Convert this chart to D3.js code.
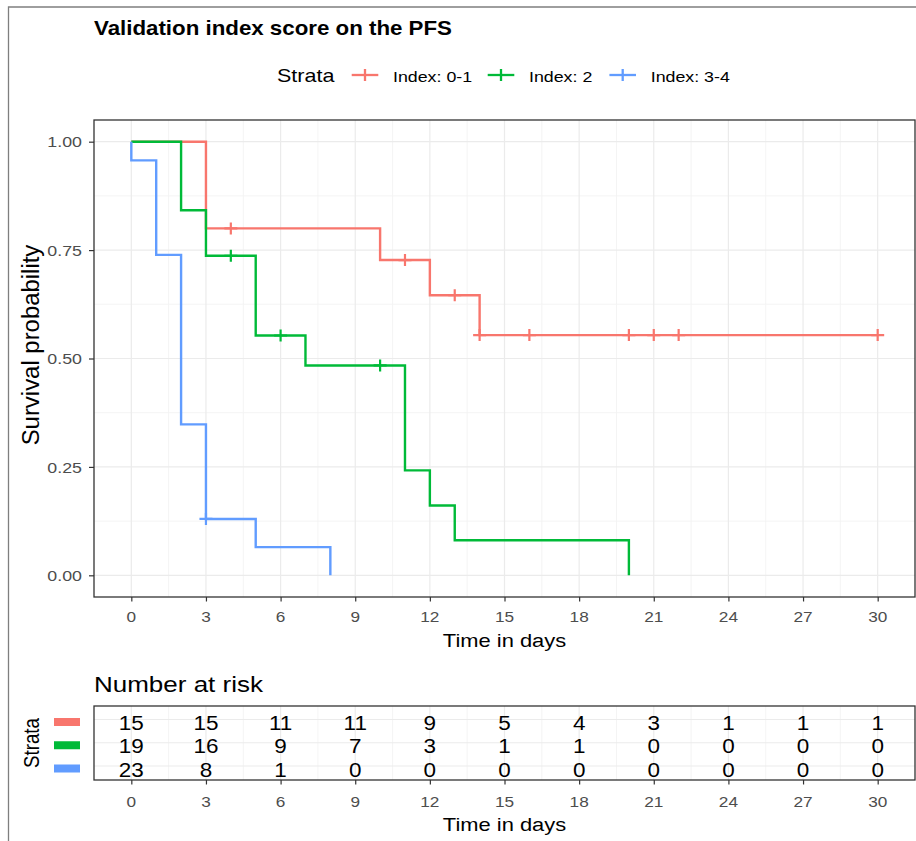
<!DOCTYPE html>
<html>
<head>
<meta charset="utf-8">
<script src="https://cdn.jsdelivr.net/npm/d3@7"></script>
<style>
  body { margin: 0; background: #fff; }
  text { font-family: "Liberation Sans", Arial, Helvetica, sans-serif; }
</style>
</head>
<body>
<svg id="chart" width="916" height="841"></svg>
<script>
// strata and colours
var strata = ["Index: 0-1", "Index: 2", "Index: 3-4"];
var colors = ["#F8766D", "#00BA38", "#619CFF"];

// Kaplan-Meier steps (time, survival after that time)
var stepTimes0 = [0, 3, 10, 12, 14, 30];
var stepSurv0  = [1, 0.800, 0.727, 0.646, 0.554, 0.554];
var censor0    = [4, 11, 13, 14, 16, 20, 21, 22, 30];

var stepTimes1 = [0, 2, 3, 5, 7, 11, 12, 13, 20];
var stepSurv1  = [1, 0.842, 0.737, 0.553, 0.484, 0.242, 0.161, 0.081, 0];
var censor1    = [4, 6, 10];

var stepTimes2 = [0, 0, 1, 2, 3, 5, 8];
var stepSurv2  = [1, 0.957, 0.739, 0.348, 0.130, 0.065, 0];
var censor2    = [3];

// number at risk
var riskTimes = [0, 3, 6, 9, 12, 15, 18, 21, 24, 27, 30];
var risk0 = [15, 15, 11, 11, 9, 5, 4, 3, 1, 1, 1];
var risk1 = [19, 16, 9, 7, 3, 1, 1, 0, 0, 0, 0];
var risk2 = [23, 8, 1, 0, 0, 0, 0, 0, 0, 0, 0];

var yTicks = [0, 0.25, 0.5, 0.75, 1];
var yTickLabels = ["0.00", "0.25", "0.50", "0.75", "1.00"];
var xTicks = d3.range(0, 31, 3);

var curves = [
  {times: stepTimes0, surv: stepSurv0, cens: censor0},
  {times: stepTimes1, surv: stepSurv1, cens: censor1},
  {times: stepTimes2, surv: stepSurv2, cens: censor2}
];
var risks = [risk0, risk1, risk2];

var VS = 0.87; // picture is squashed vertically
var gridMajor = "#EBEBEB", gridMinor = "#F3F3F3", ink = "#333333", tickInk = "#4D4D4D";

var svg = d3.select("#chart");

// outer frame
svg.append("path")
  .attr("d", "M8.5,845V7H920")
  .attr("fill", "none")
  .attr("stroke", "#7F7F7F")
  .attr("stroke-width", 1.3);

function label(sel, x, y, s, size, opts) {
  opts = opts || {};
  var t = sel.append("text")
    .attr("transform", "translate(" + x + "," + y + ")" + (opts.rotate ? " rotate(-90) scale(" + (opts.sx || VS) + ",1)" : " scale(1," + VS + ")"))
    .attr("font-size", size)
    .attr("fill", opts.fill || "#000")
    .attr("text-anchor", opts.anchor || "start")
    .text(s);
  if (opts.bold) t.attr("font-weight", "bold");
  return t;
}

// scales
var x = d3.scaleLinear().domain([-1.5, 31.5]).range([94, 915]);
var y = d3.scaleLinear().domain([-0.05, 1.05]).range([597, 120]);
var yr = d3.scalePoint().domain(strata).range([719.5, 766]);

var xMinor = d3.range(1.5, 30, 3);
var yMinor = [0.125, 0.375, 0.625, 0.875];

// title
label(svg, 94, 35, "Validation index score on the PFS", 22.3, {bold: true});

// legend
label(svg, 277, 82, "Strata", 21.5);
var keyX = [365, 501, 622.7];
strata.forEach(function(s, i) {
  var k = svg.append("g").attr("stroke", colors[i]).attr("stroke-width", 2.3);
  k.append("line").attr("x1", keyX[i] - 13.3).attr("x2", keyX[i] + 13.3).attr("y1", 75).attr("y2", 75);
  k.append("line").attr("x1", keyX[i]).attr("x2", keyX[i]).attr("y1", 69).attr("y2", 81);
  label(svg, keyX[i] + 28, 82, s, 17.8);
});

// ---- survival panel ----
var panel = svg.append("g");

panel.selectAll(".vminor").data(xMinor).enter().append("line")
  .attr("x1", function(d) { return x(d); }).attr("x2", function(d) { return x(d); })
  .attr("y1", 120).attr("y2", 597).attr("stroke", gridMinor).attr("stroke-width", 0.9);
panel.selectAll(".hminor").data(yMinor).enter().append("line")
  .attr("y1", function(d) { return y(d); }).attr("y2", function(d) { return y(d); })
  .attr("x1", 94).attr("x2", 915).attr("stroke", gridMinor).attr("stroke-width", 0.9);
panel.selectAll(".vmajor").data(xTicks).enter().append("line")
  .attr("x1", function(d) { return x(d); }).attr("x2", function(d) { return x(d); })
  .attr("y1", 120).attr("y2", 597).attr("stroke", gridMajor).attr("stroke-width", 1.2);
panel.selectAll(".hmajor").data(yTicks).enter().append("line")
  .attr("y1", function(d) { return y(d); }).attr("y2", function(d) { return y(d); })
  .attr("x1", 94).attr("x2", 915).attr("stroke", gridMajor).attr("stroke-width", 1.2);

var line = d3.line()
  .x(function(d) { return x(d[0]); })
  .y(function(d) { return y(d[1]); })
  .curve(d3.curveStepAfter);

function survAt(c, t) {
  var s = c.surv[0];
  for (var i = 0; i < c.times.length; i++) if (c.times[i] <= t) s = c.surv[i];
  return s;
}

curves.forEach(function(c, i) {
  var pts = c.times.map(function(t, j) { return [t, c.surv[j]]; });
  panel.append("path")
    .attr("d", line(pts))
    .attr("fill", "none")
    .attr("stroke", colors[i])
    .attr("stroke-width", 2.4);
  panel.selectAll(".cens" + i).data(c.cens).enter().append("path")
    .attr("d", function(t) {
      var cx = x(t), cy = y(survAt(c, t));
      return "M" + (cx - 6.5) + "," + cy + "H" + (cx + 6.5) + "M" + cx + "," + (cy - 6) + "V" + (cy + 6);
    })
    .attr("stroke", colors[i])
    .attr("stroke-width", 2.2);
});

panel.append("rect")
  .attr("x", 94).attr("y", 120).attr("width", 821).attr("height", 477)
  .attr("fill", "none").attr("stroke", ink).attr("stroke-width", 1.3);

// axes ticks
svg.append("g").attr("transform", "translate(94,0)")
  .call(d3.axisLeft(y).tickValues(yTicks).tickSize(5).tickFormat(""))
  .call(function(g) { g.select(".domain").remove(); g.selectAll("line").attr("stroke", ink).attr("stroke-width", 1.2); });
svg.append("g").attr("transform", "translate(0,597)")
  .call(d3.axisBottom(x).tickValues(xTicks).tickSize(4.5).tickFormat(""))
  .call(function(g) { g.select(".domain").remove(); g.selectAll("line").attr("stroke", ink).attr("stroke-width", 1.2); });

yTicks.forEach(function(v, i) {
  label(svg, 82, y(v) + 5.6, yTickLabels[i], 17.8, {anchor: "end", fill: tickInk});
});
xTicks.forEach(function(v) {
  label(svg, x(v), 622, String(v), 17.2, {anchor: "middle", fill: tickInk});
});
label(svg, 504.5, 646.7, "Time in days", 21.9, {anchor: "middle"});
label(svg, 38.5, 345, "Survival probability", 23, {anchor: "middle", rotate: true, sx: 1.04});

// ---- risk table ----
label(svg, 94, 691.7, "Number at risk", 26);

var table = svg.append("g");
table.selectAll(".tvminor").data(xMinor).enter().append("line")
  .attr("x1", function(d) { return x(d); }).attr("x2", function(d) { return x(d); })
  .attr("y1", 706).attr("y2", 780).attr("stroke", gridMinor).attr("stroke-width", 0.9);
table.selectAll(".tvmajor").data(xTicks).enter().append("line")
  .attr("x1", function(d) { return x(d); }).attr("x2", function(d) { return x(d); })
  .attr("y1", 706).attr("y2", 780).attr("stroke", gridMajor).attr("stroke-width", 1.2);
table.selectAll(".thmajor").data(strata).enter().append("line")
  .attr("y1", function(d) { return yr(d); }).attr("y2", function(d) { return yr(d); })
  .attr("x1", 94).attr("x2", 915).attr("stroke", gridMajor).attr("stroke-width", 1.2);

strata.forEach(function(s, i) {
  risks[i].forEach(function(n, j) {
    label(table, x(riskTimes[j]), yr(s) + 10.5, String(n), 22.5, {anchor: "middle"});
  });
  svg.append("rect")
    .attr("x", 54).attr("y", yr(s) + 2.5 - 4).attr("width", 26).attr("height", 8)
    .attr("fill", colors[i]);
});

table.append("rect")
  .attr("x", 94).attr("y", 706).attr("width", 821).attr("height", 74)
  .attr("fill", "none").attr("stroke", ink).attr("stroke-width", 1.3);

svg.append("g").attr("transform", "translate(0,780)")
  .call(d3.axisBottom(x).tickValues(xTicks).tickSize(4.5).tickFormat(""))
  .call(function(g) { g.select(".domain").remove(); g.selectAll("line").attr("stroke", ink).attr("stroke-width", 1.2); });
xTicks.forEach(function(v) {
  label(svg, x(v), 807, String(v), 17.2, {anchor: "middle", fill: tickInk});
});
label(svg, 504.5, 831, "Time in days", 21.9, {anchor: "middle"});
label(svg, 39.3, 743, "Strata", 21.5, {anchor: "middle", rotate: true});
</script>
</body>
</html>
